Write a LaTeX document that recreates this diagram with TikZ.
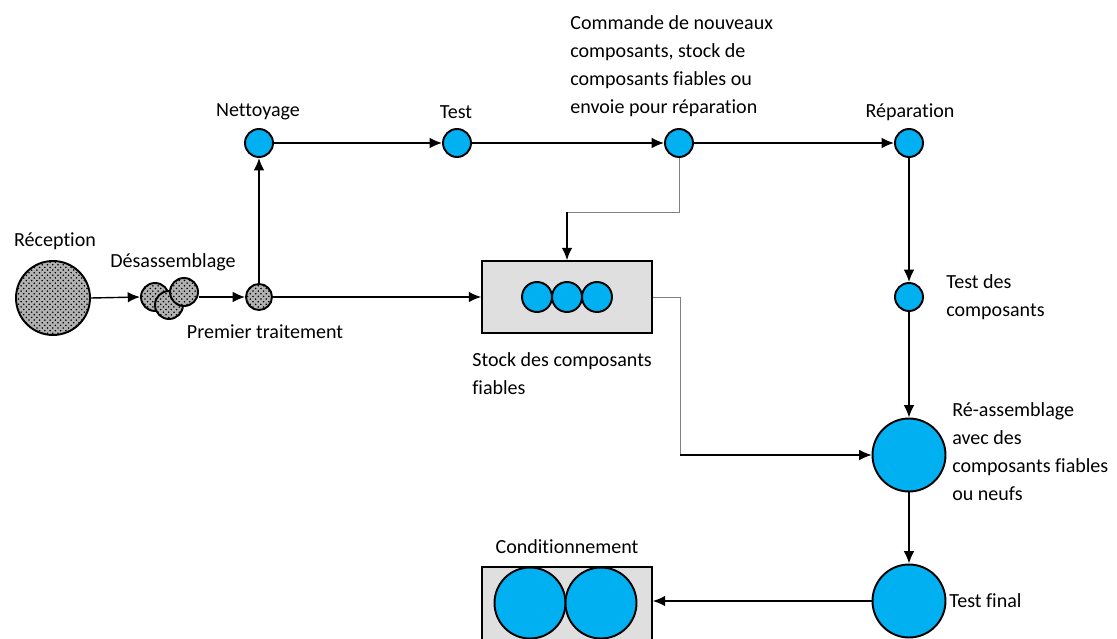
\documentclass[tikz,border=0pt]{standalone}
\usepackage{fontspec}
\setmainfont{Carlito}[Ligatures=NoCommon]
\usetikzlibrary{arrows.meta, patterns, positioning}
\definecolor{partblue}{RGB}{0,176,240}

\begin{document}
\begin{tikzpicture}[x=0.02cm, y=-0.02cm, >={Latex[length=7pt,width=6pt]},
    flow/.style={->, line width=0.8pt},
    greyline/.style={draw=gray, line width=0.5pt},
    used/.style={circle, draw, line width=1.1pt, inner sep=0pt, preaction={fill=gray!60}, pattern=crosshatch dots, pattern color=black},
    part/.style={circle, draw, line width=1.1pt, inner sep=0pt, fill=partblue},
    box/.style={rectangle, draw, line width=1pt, fill=gray!25, minimum width=3.4cm},
    txt/.style={font=\fontsize{11.4}{15.9}\selectfont, inner sep=0pt, align=left}]
\useasboundingbox (0,0) rectangle (1117,639);
\clip (0,0) rectangle (1117,639);

% used products
\node[used, minimum size=1.48cm] (rec) at (53,298) {};
\node[used, minimum size=0.56cm] (des1) at (155,297) {};
\node[used, minimum size=0.56cm] (des2) at (169,305) {};
\node[used, minimum size=0.56cm] (des3) at (184,292) {};
\node[used, minimum size=0.52cm] (prem) at (259,297) {};

% line of parts
\node[part, minimum size=0.56cm] (net) at (259,143) {};
\node[part, minimum size=0.56cm] (test) at (457,143) {};
\node[part, minimum size=0.56cm] (cmd) at (679,143) {};
\node[part, minimum size=0.56cm] (rep) at (909,143) {};
\node[part, minimum size=0.56cm] (tcomp) at (909,297) {};
\node[part, minimum size=1.46cm] (reas) at (909,455) {};
\node[part, minimum size=1.46cm] (tfin) at (909,601) {};

% stock and packing
\node[box, minimum height=1.44cm] (stock) at (567,297) {};
\node[part, minimum size=0.6cm] (s1) at (537,297) {};
\node[part, minimum size=0.6cm] (s2) at (567,297) {};
\node[part, minimum size=0.6cm] (s3) at (597,297) {};
\node[box, minimum height=1.7cm] (cond) at (567,609.5) {};
\node[part, minimum size=1.42cm] (c1) at (530,603) {};
\node[part, minimum size=1.42cm] (c2) at (601,603) {};

% labels
\node[txt] (lrec) at (55,241) {Réception};
\node[txt] (ldes) at (173,262) {Désassemblage};
\node[txt] (lprem) at (265,332) {Premier traitement};
\node[txt] (lnet) at (258,112) {Nettoyage};
\node[txt] (ltest) at (456,112) {Test};
\node[txt, anchor=west] (lcmd) at (570,66) {Commande de nouveaux\\composants, stock de\\composants fiables ou\\envoie pour réparation};
\node[txt] (lrep) at (910,112) {Réparation};
\node[txt, anchor=west] (lstock) at (472,374) {Stock des composants\\fiables};
\node[txt, anchor=west] (ltcomp) at (946,297) {Test des\\composants};
\node[txt, anchor=west] (lreas) at (952,452) {Ré-assemblage\\avec des\\composants fiables\\ou neufs};
\node[txt, anchor=west] (ltfin) at (949,601) {Test final};
\node[txt] (lcond) at (567,547) {Conditionnement};

% connectors
\draw[flow] (rec.east) -- (des1.west);
\draw[flow] (des3.east |- prem.west) -- (prem.west);
\draw[flow] (prem) -- (net);
\draw[flow] (prem) -- (stock.west);
\draw[flow] (net) -- (test);
\draw[flow] (test) -- (cmd);
\draw[flow] (cmd) -- (rep);
\draw[flow] (rep) -- (tcomp);
\draw[flow] (tcomp) -- (reas);
\draw[flow] (reas) -- (tfin);
\draw[flow] (tfin) -- (cond.east |- tfin.west);
\coordinate (kink1) at (567,212);
\coordinate (kink2) at (680,455);
\draw[greyline] (cmd.south) |- (kink1);
\draw[flow] (kink1) -- (stock.north);
\draw[greyline] (stock.east) -| (kink2);
\draw[->, line width=0.6pt] (kink2) -- (reas.west);
\end{tikzpicture}
\end{document}
